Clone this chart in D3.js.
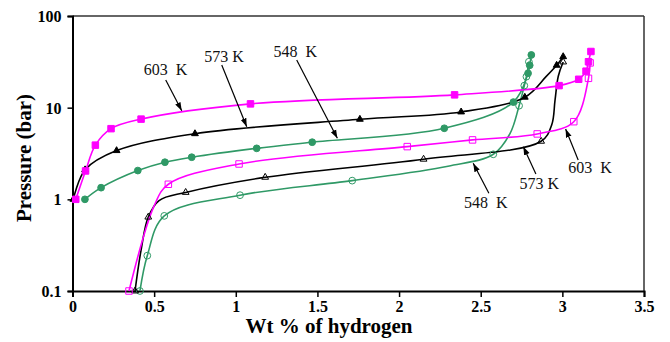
<!DOCTYPE html>
<html>
<head>
<meta charset="utf-8">
<script src="https://cdn.jsdelivr.net/npm/d3@7"></script>
<style>
  body { margin: 0; background: #fff; }
  svg { display: block; }
  text { font-family: "Liberation Serif", "Times New Roman", serif; }
</style>
</head>
<body>
<div id="chart"></div>
<script>
// [wt%, pressure (bar), marker?]
const abs603 = [[0.02,1.0,1],[0.08,2.04,1],[0.14,3.9,1],[0.236,5.9,1],[0.42,7.5,1],[1.09,11,1],[2.34,13.8,1],[2.98,17.4,1],[3.10,20.4,1],[3.145,25,1],[3.16,31.7,1],[3.175,41,1]];
const des603 = [[0.346,0.1,1],[0.50,0.85,0],[0.587,1.46,1],[1.02,2.43,1],[2.05,3.76,1],[2.45,4.45,1],[2.846,5.17,1],[3.07,7.03,1],[3.16,20.9,1],[3.17,30.8,1]];
const abs573 = [[0.005,1.0,1],[0.077,2.1,1],[0.27,3.4,1],[0.75,5.2,1],[1.76,7.47,1],[2.38,8.98,1],[2.77,13,1],[2.90,21.8,0],[2.965,29,1],[3.005,36,1]];
const des573 = [[0.383,0.1,1],[0.42,0.28,0],[0.464,0.64,1],[0.53,0.97,0],[0.693,1.19,1],[1.18,1.74,1],[2.15,2.74,1],[2.87,4.3,1],[2.935,6.5,0],[2.955,12,0],[2.975,22,0],[3.005,31.5,1]];
const abs548 = [[0.076,1.0,1],[0.175,1.34,1],[0.40,2.06,1],[0.566,2.54,1],[0.73,2.88,1],[1.128,3.6,1],[1.468,4.2,1],[2.277,5.96,1],[2.70,11.5,1],[2.79,23.7,1],[2.80,29,1],[2.81,37.6,1]];
const des548 = [[0.413,0.1,1],[0.458,0.243,1],[0.562,0.66,1],[1.026,1.11,1],[1.713,1.6,1],[2.3,2.3,0],[2.577,3.1,1],[2.68,5.25,0],[2.735,10.5,1],[2.767,17.4,1],[2.78,21.8,1],[2.795,31.7,1]];

const xTicks = [0, 0.5, 1, 1.5, 2, 2.5, 3, 3.5];
const yTicks = [0.1, 1, 10, 100];

// label text, text position [x, P], arrow from [x, P] to [x, P]
const labels = [
  {text: "603  K", at: [0.569, 22.7], from: [0.571, 20.0], to: [0.669, 9.27]},
  {text: "573 K", at: [0.928, 31.7], from: [0.914, 29.2], to: [1.067, 6.2]},
  {text: "548  K", at: [1.364, 36.0], from: [1.373, 33.1], to: [1.622, 4.63]},
  {text: "548  K", at: [2.531, 0.798], from: [2.55, 1.164], to: [2.454, 2.47]},
  {text: "573 K", at: [2.859, 1.287], from: [2.838, 1.89], to: [2.761, 3.75]},
  {text: "603  K", at: [3.169, 1.953], from: [3.097, 2.69], to: [3.02, 5.85]}
];

const W = 670, H = 342;
const margin = {top: 16, right: 26, bottom: 51, left: 72.5};

const svg = d3.select("#chart").append("svg")
  .attr("width", W)
  .attr("height", H);

const x = d3.scaleLinear().domain([0, 3.5]).range([margin.left, W - margin.right]);
const y = d3.scaleLog().domain([0.1, 100]).range([H - margin.bottom, margin.top]);

function boldSerif(sel, size) {
  sel.style("font-family", "'Liberation Serif', 'Times New Roman', serif")
    .style("font-size", size + "px")
    .style("font-weight", "bold")
    .attr("fill", "#000");
}

// frame
svg.append("line").attr("x1", x(0)).attr("x2", x(3.5)).attr("y1", y(100)).attr("y2", y(100))
  .attr("stroke", "#333").attr("stroke-width", 1.5);
svg.append("line").attr("x1", x(3.5)).attr("x2", x(3.5)).attr("y1", y(100)).attr("y2", y(0.1))
  .attr("stroke", "#333").attr("stroke-width", 1.5);

const xAxis = svg.append("g")
  .attr("transform", `translate(0,${y(0.1)})`)
  .call(d3.axisBottom(x).tickValues(xTicks).tickFormat(d3.format("")).tickSize(6).tickPadding(4));
const yAxis = svg.append("g")
  .attr("transform", `translate(${x(0)},0)`)
  .call(d3.axisLeft(y).tickValues(yTicks).tickFormat(d => d).tickSize(5).tickPadding(6));

[xAxis, yAxis].forEach(a => {
  a.attr("font-family", null);
  a.select(".domain").attr("stroke", "#000").attr("stroke-width", 2);
  a.selectAll(".tick line").attr("stroke", "#000").attr("stroke-width", 1.5);
  a.selectAll(".tick text").call(boldSerif, 16);
});
yAxis.selectAll(".tick text").attr("dy", "0.35em");

svg.append("text")
  .attr("x", 329).attr("y", 333)
  .attr("text-anchor", "middle")
  .call(boldSerif, 21)
  .text("Wt % of hydrogen");

svg.append("text")
  .attr("transform", "translate(31,158) rotate(-90)")
  .attr("text-anchor", "middle")
  .call(boldSerif, 21)
  .text("Pressure (bar)");

const line = d3.line()
  .x(d => x(d[0]))
  .y(d => y(d[1]))
  .curve(d3.curveCatmullRom.alpha(0.5));

const series = [
  {data: abs548, color: "#2f9966", marker: "circle", filled: true},
  {data: des548, color: "#2f9966", marker: "circle", filled: false},
  {data: abs573, color: "#000", marker: "triangle", filled: true},
  {data: des573, color: "#000", marker: "triangle", filled: false},
  {data: abs603, color: "#ff00ff", marker: "square", filled: true},
  {data: des603, color: "#ff00ff", marker: "square", filled: false}
];

const sym = {
  circle: d3.symbol().type(d3.symbolCircle).size(36),
  square: d3.symbol().type(d3.symbolSquare).size(42),
  triangle: d3.symbol().type(d3.symbolTriangle).size(20)
};

series.forEach(s => {
  svg.append("path")
    .datum(s.data)
    .attr("d", line)
    .attr("fill", "none")
    .attr("stroke", s.color)
    .attr("stroke-width", 1.6);
});

series.forEach(s => {
  svg.append("g").selectAll("path")
    .data(s.data.filter(d => d[2]))
    .enter().append("path")
    .attr("transform", d => `translate(${x(d[0])},${y(d[1])})`)
    .attr("d", sym[s.marker]())
    .attr("fill", s.filled ? s.color : "#fff")
    .attr("fill-opacity", s.filled ? 1 : 0)
    .attr("stroke", s.color)
    .attr("stroke-width", 1);
});

// annotations
svg.append("defs").append("marker")
  .attr("id", "arrow")
  .attr("viewBox", "0 0 10 10")
  .attr("refX", 10).attr("refY", 5)
  .attr("markerWidth", 7).attr("markerHeight", 7)
  .attr("orient", "auto")
  .append("path").attr("d", "M0,1.5 L10,5 L0,8.5 Z").attr("fill", "#000");

const ann = svg.append("g");
ann.selectAll("line")
  .data(labels)
  .enter().append("line")
  .attr("x1", d => x(d.from[0])).attr("y1", d => y(d.from[1]))
  .attr("x2", d => x(d.to[0])).attr("y2", d => y(d.to[1]))
  .attr("stroke", "#000").attr("stroke-width", 1.2)
  .attr("marker-end", "url(#arrow)");

ann.selectAll("text")
  .data(labels)
  .enter().append("text")
  .attr("x", d => x(d.at[0])).attr("y", d => y(d.at[1]))
  .attr("text-anchor", "middle")
  .style("white-space", "pre")
  .style("font-size", "16px")
  .attr("fill", "#111")
  .text(d => d.text);
</script>
</body>
</html>
